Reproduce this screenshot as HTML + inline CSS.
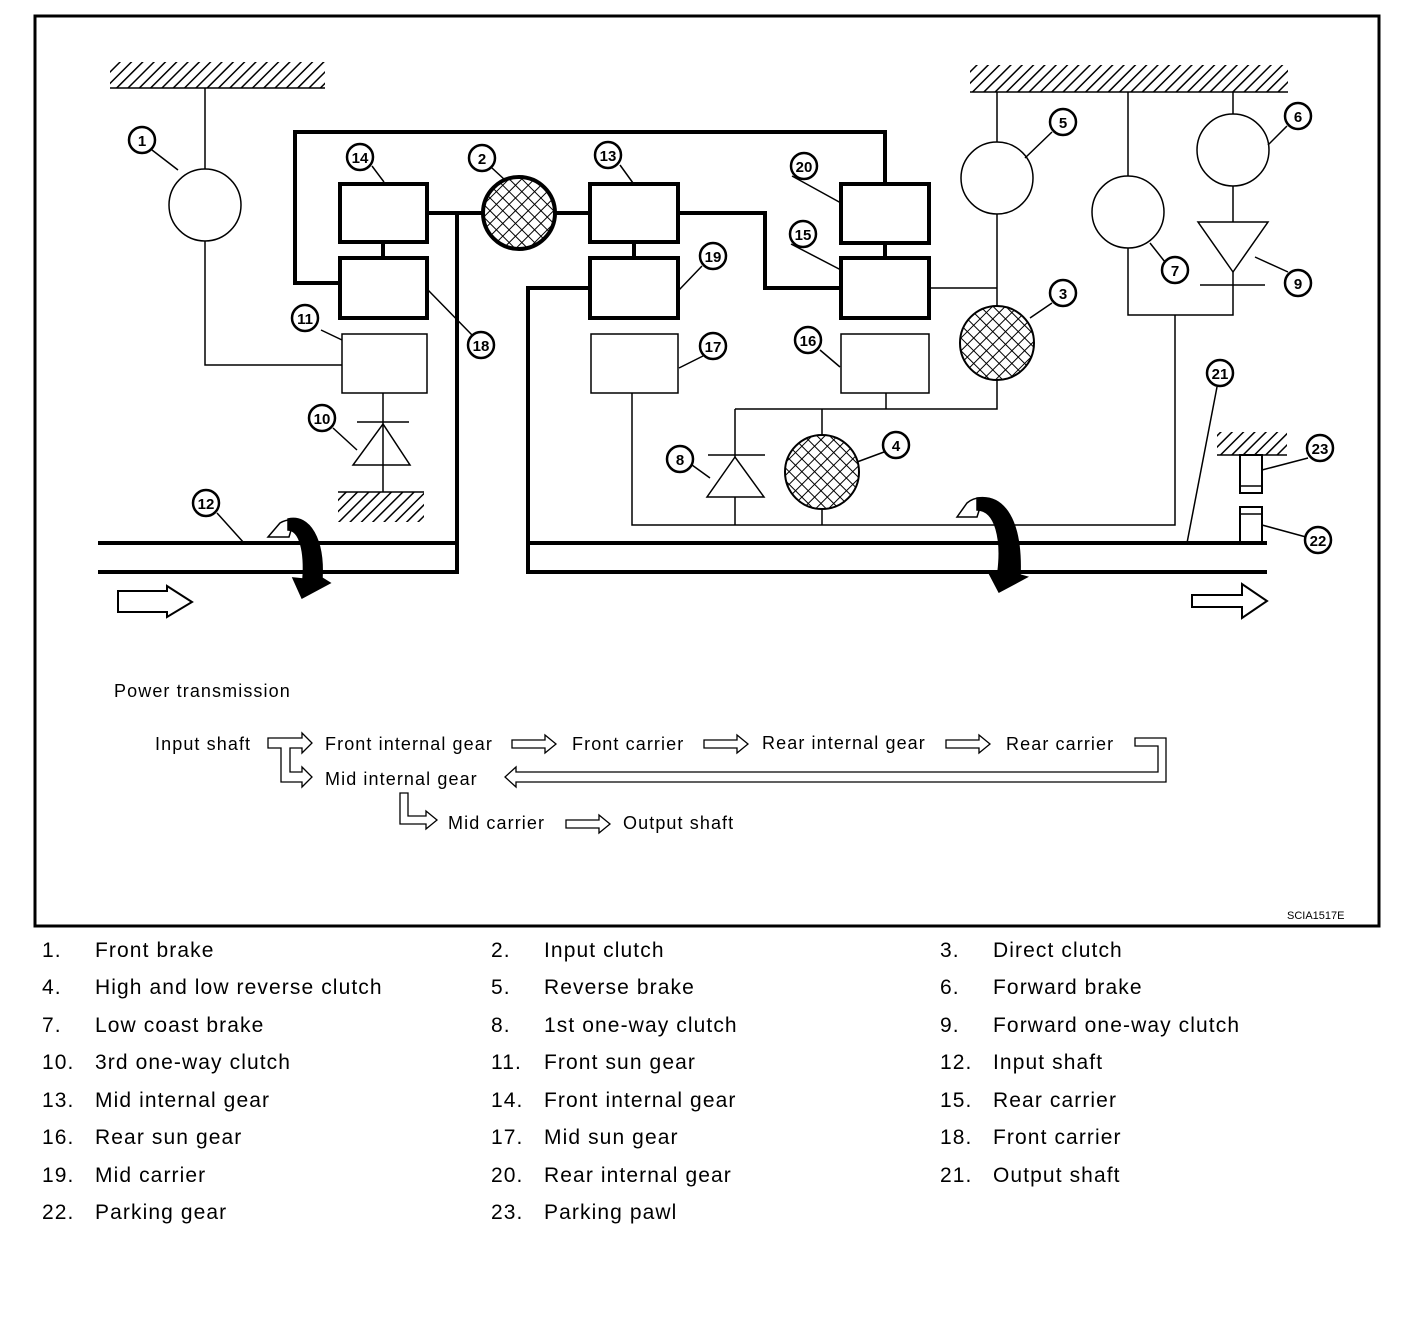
<!DOCTYPE html>
<html><head><meta charset="utf-8"><style>
html,body{margin:0;padding:0;background:#fff}
svg{display:block}
text{font-family:"Liberation Sans",sans-serif}
.n{font-weight:bold;font-size:15px;text-anchor:middle}
.pt{font-size:18px;letter-spacing:1.1px}
.lg{font-size:21px;letter-spacing:1.1px}
</style></head><body>
<svg width="1408" height="1322" viewBox="0 0 1408 1322" xmlns="http://www.w3.org/2000/svg">
<defs>
<pattern id="h" width="8" height="8" patternUnits="userSpaceOnUse" patternTransform="rotate(45)">
<line x1="0" y1="0" x2="0" y2="8" stroke="#000" stroke-width="3"/></pattern>
<pattern id="x" width="9" height="9" patternUnits="userSpaceOnUse" patternTransform="rotate(45)">
<rect width="9" height="9" fill="#fff"/><line x1="0" y1="0" x2="9" y2="0" stroke="#000" stroke-width="2"/><line x1="0" y1="0" x2="0" y2="9" stroke="#000" stroke-width="2"/></pattern>
</defs>
<rect x="35" y="16" width="1344" height="910" fill="none" stroke="#000" stroke-width="3"/>

<rect x="110" y="62" width="215" height="26" fill="url(#h)"/><line x1="110" y1="88" x2="325" y2="88" stroke="#000" stroke-width="1.5"/>
<rect x="970" y="65" width="318" height="27" fill="url(#h)"/><line x1="970" y1="92" x2="1288" y2="92" stroke="#000" stroke-width="1.5"/>
<rect x="338" y="492" width="86" height="30" fill="url(#h)"/><line x1="338" y1="492" x2="424" y2="492" stroke="#000" stroke-width="1.5"/>
<rect x="1217" y="432" width="70" height="23" fill="url(#h)"/><line x1="1217" y1="455" x2="1287" y2="455" stroke="#000" stroke-width="1.5"/>

<g fill="none" stroke="#000">
<g stroke-width="1.5">
<path d="M205,88V169M205,241V365H342"/>
<circle cx="205" cy="205" r="36" fill="#fff"/>
<rect x="342" y="334" width="85" height="59"/>
<path d="M383,393V465M357,422H409M383,465V492"/>
<polygon points="383,424 353,465 410,465"/>
<rect x="591" y="334" width="87" height="59"/>
<rect x="841" y="334" width="88" height="59"/>
<path d="M632,393V525H1175V315M1128,248V315H1233V285M886,393V409M735,409H997V380M997,306V288H929M997,288V214M997,142V92M1128,92V176M1233,92V114M1233,186V222"/>
<circle cx="997" cy="178" r="36" fill="#fff"/>
<circle cx="1128" cy="212" r="36" fill="#fff"/>
<circle cx="1233" cy="150" r="36" fill="#fff"/>
<polygon points="1198,222 1268,222 1233,272"/>
<path d="M1200,285H1265M1233,272V285"/>
<path d="M735,409V457M708,455H765M735,497V525M822,409V435M822,509V525"/>
<polygon points="735,457 707,497 764,497"/>
<path d="M152,150L178,170M372,166L384,182M492,168L505,180M321,330L342,340M333,428L357,450M217,513L244,543M428,290L472,335M620,165L633,183M702,266L679,290M703,356L679,368M792,176L841,203M791,244L841,270M820,350L840,367M1052,132L1025,158M1287,126L1268,145M1165,262L1150,243M1288,272L1255,257M1052,303L1030,318M884,452L857,462M692,465L710,478M1217,387L1187,543M1308,458L1262,470M1306,537L1262,525"/>
<rect x="1240" y="455" width="22" height="38" stroke-width="2"/><path d="M1240,486H1262"/>
<rect x="1240" y="507" width="22" height="36" stroke-width="2"/><path d="M1240,514H1262"/>
</g>
<g stroke-width="4">
<path d="M340,283H295V132H885V184"/>
<rect x="340" y="184" width="87" height="58"/>
<rect x="340" y="258" width="87" height="60"/>
<path d="M383,242V258M427,213H483M457,213V572H98M98,543H457"/>
<path d="M556,213H590"/>
<rect x="590" y="184" width="88" height="58"/>
<rect x="590" y="258" width="88" height="60"/>
<path d="M634,242V258M590,288H528V572H1267M528,543H1267M678,213H765V288H841"/>
<rect x="841" y="184" width="88" height="59"/>
<rect x="841" y="258" width="88" height="60"/>
<path d="M885,243V258"/>
</g>
</g>
<circle cx="519" cy="213" r="36" fill="url(#x)" stroke="#000" stroke-width="4"/>
<circle cx="997" cy="343" r="37" fill="url(#x)" stroke="#000" stroke-width="2"/>
<circle cx="822" cy="472" r="37" fill="url(#x)" stroke="#000" stroke-width="2"/>

<g stroke="#000" stroke-width="1.5">
<path d="M268,537L280,523Q287,519 294,520L289,537Z" fill="#fff"/>
<path d="M288,519C310,514 324,540 322,578L330,583L302,598L293,578L303,579C305,552 300,530 288,530Z" fill="#000"/>
<path d="M957,517L967,503Q974,497 983,498L977,517Z" fill="#fff"/>
<path d="M977,498C1004,494 1022,520 1020,575L1027,577L999,592L988,571L998,572C1002,540 996,510 977,510Z" fill="#000"/>
<polygon points="118,591 167,591 167,586 192,602 167,617 167,612 118,612" fill="#fff" stroke-width="2"/>
<polygon points="1192,595 1242,595 1242,584 1267,601 1242,618 1242,607 1192,607" fill="#fff" stroke-width="2"/>
</g>

<g fill="#fff" stroke="#000" stroke-width="2.5">
<circle cx="142" cy="140" r="13"/><circle cx="360" cy="157" r="13"/><circle cx="482" cy="158" r="13"/>
<circle cx="305" cy="318" r="13"/><circle cx="322" cy="418" r="13"/><circle cx="206" cy="503" r="13"/>
<circle cx="481" cy="345" r="13"/><circle cx="608" cy="155" r="13"/><circle cx="713" cy="256" r="13"/>
<circle cx="713" cy="346" r="13"/><circle cx="804" cy="166" r="13"/><circle cx="803" cy="234" r="13"/>
<circle cx="808" cy="340" r="13"/><circle cx="1063" cy="122" r="13"/><circle cx="1298" cy="116" r="13"/>
<circle cx="1175" cy="270" r="13"/><circle cx="1298" cy="283" r="13"/><circle cx="1063" cy="293" r="13"/>
<circle cx="896" cy="445" r="13"/><circle cx="680" cy="459" r="13"/><circle cx="1220" cy="373" r="13"/>
<circle cx="1320" cy="448" r="13"/><circle cx="1318" cy="540" r="13"/>
</g>
<g class="n">
<text x="142" y="146">1</text><text x="360" y="163">14</text><text x="482" y="164">2</text>
<text x="305" y="324">11</text><text x="322" y="424">10</text><text x="206" y="509">12</text>
<text x="481" y="351">18</text><text x="608" y="161">13</text><text x="713" y="262">19</text>
<text x="713" y="352">17</text><text x="804" y="172">20</text><text x="803" y="240">15</text>
<text x="808" y="346">16</text><text x="1063" y="128">5</text><text x="1298" y="122">6</text>
<text x="1175" y="276">7</text><text x="1298" y="289">9</text><text x="1063" y="299">3</text>
<text x="896" y="451">4</text><text x="680" y="465">8</text><text x="1220" y="379">21</text>
<text x="1320" y="454">23</text><text x="1318" y="546">22</text>
</g>

<g class="pt">
<text x="114" y="697">Power transmission</text>
<text x="155" y="750">Input shaft</text>
<text x="325" y="750">Front internal gear</text>
<text x="572" y="750">Front carrier</text>
<text x="762" y="749">Rear internal gear</text>
<text x="1006" y="750">Rear carrier</text>
<text x="325" y="785">Mid internal gear</text>
<text x="448" y="829">Mid carrier</text>
<text x="623" y="829">Output shaft</text>
</g>
<g fill="#fff" stroke="#000" stroke-width="1.3">
<path d="M268,738H302V733L312,743L302,753V748H290V772H302V767L312,777L302,787V782H281V748H268Z"/>
<path d="M512,740H545V735L556,744L545,753V748H512Z"/>
<path d="M704,740H737V735L748,744L737,753V748H704Z"/>
<path d="M946,740H979V735L990,744L979,753V748H946Z"/>
<path d="M566,820H599V815L610,824L599,833V828H566Z"/>
<path d="M1135,738H1166V782H516V787L505,777L516,767V772H1158V746H1135Z"/>
<path d="M400,793H408V816H426V811L437,820L426,829V824H400Z"/>
</g>
<text x="1287" y="919" font-size="11">SCIA1517E</text>

<g class="lg">
<text x="42" y="957">1.</text><text x="95" y="957">Front brake</text>
<text x="491" y="957">2.</text><text x="544" y="957">Input clutch</text>
<text x="940" y="957">3.</text><text x="993" y="957">Direct clutch</text>
<text x="42" y="994">4.</text><text x="95" y="994">High and low reverse clutch</text>
<text x="491" y="994">5.</text><text x="544" y="994">Reverse brake</text>
<text x="940" y="994">6.</text><text x="993" y="994">Forward brake</text>
<text x="42" y="1032">7.</text><text x="95" y="1032">Low coast brake</text>
<text x="491" y="1032">8.</text><text x="544" y="1032">1st one-way clutch</text>
<text x="940" y="1032">9.</text><text x="993" y="1032">Forward one-way clutch</text>
<text x="42" y="1069">10.</text><text x="95" y="1069">3rd one-way clutch</text>
<text x="491" y="1069">11.</text><text x="544" y="1069">Front sun gear</text>
<text x="940" y="1069">12.</text><text x="993" y="1069">Input shaft</text>
<text x="42" y="1107">13.</text><text x="95" y="1107">Mid internal gear</text>
<text x="491" y="1107">14.</text><text x="544" y="1107">Front internal gear</text>
<text x="940" y="1107">15.</text><text x="993" y="1107">Rear carrier</text>
<text x="42" y="1144">16.</text><text x="95" y="1144">Rear sun gear</text>
<text x="491" y="1144">17.</text><text x="544" y="1144">Mid sun gear</text>
<text x="940" y="1144">18.</text><text x="993" y="1144">Front carrier</text>
<text x="42" y="1182">19.</text><text x="95" y="1182">Mid carrier</text>
<text x="491" y="1182">20.</text><text x="544" y="1182">Rear internal gear</text>
<text x="940" y="1182">21.</text><text x="993" y="1182">Output shaft</text>
<text x="42" y="1219">22.</text><text x="95" y="1219">Parking gear</text>
<text x="491" y="1219">23.</text><text x="544" y="1219">Parking pawl</text>
</g>
</svg>
</body></html>
